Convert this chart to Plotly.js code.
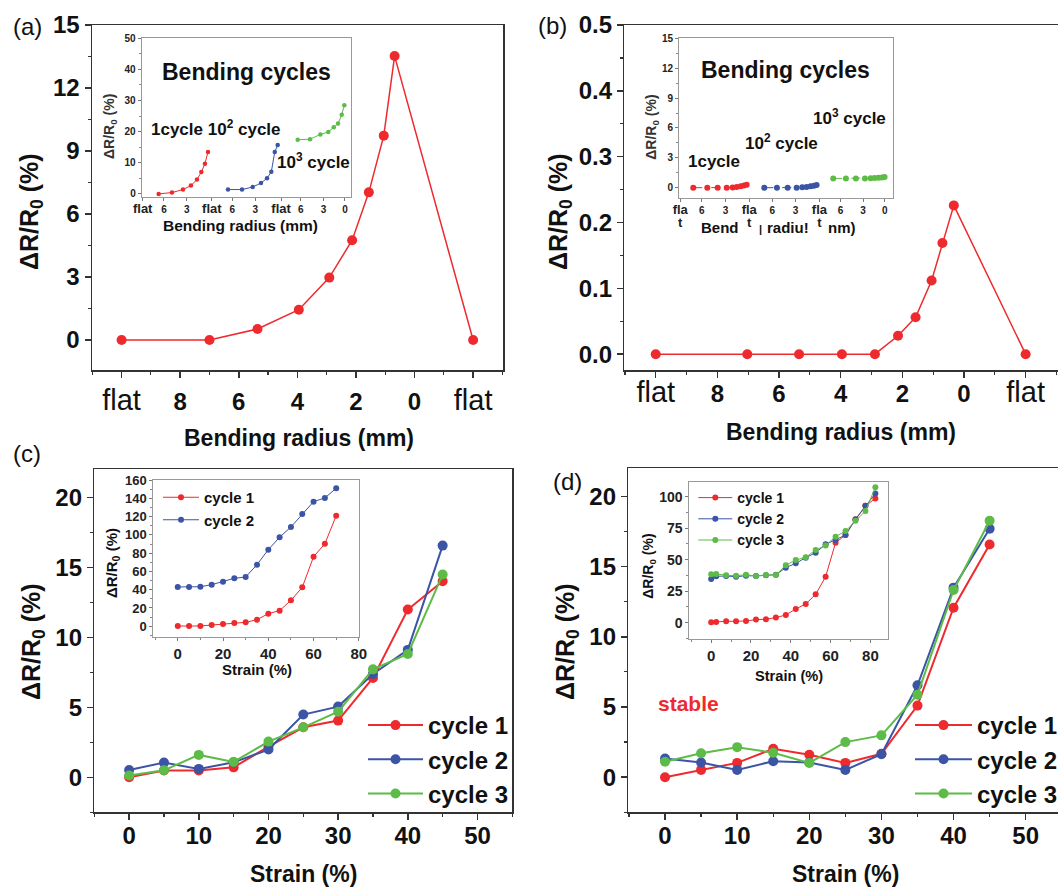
<!DOCTYPE html>
<html><head><meta charset="utf-8">
<script src="https://cdn.plot.ly/plotly-3.0.1.min.js"></script>
<style>html,body{margin:0;padding:0;background:#fff;overflow:hidden}#chart{width:1058px;height:889px}</style>
</head><body><div id="chart"></div>
<script>
// ---------------- data ----------------
// main (a)/(b): "flat" slots are placed at radius positions 10 (start) and -2 (end)
const FLAT_START = 10, FLAT_END = -2;
const aRadius   = [FLAT_START, 7.0, 5.36, 3.95, 2.91, 2.13, 1.56, 1.05, 0.68, FLAT_END];
const aResponse = [0, 0, 0.52, 1.44, 2.97, 4.75, 7.03, 9.73, 13.52, 0];
const bRadius   = [FLAT_START, 7.03, 5.35, 3.96, 2.89, 2.14, 1.57, 1.05, 0.70, 0.33, FLAT_END];
const bResponse = [0, 0, 0, 0, 0, 0.028, 0.056, 0.112, 0.169, 0.226, 0];

// inset (a): bending radius per cycle segment (1, 10^2, 10^3 cycles)
const aInsRadius1 = [6.70, 4.95, 3.50, 2.45, 1.66, 1.09, 0.61, 0.21];
const aInsResp1   = [0, 0.43, 1.4, 2.7, 4.6, 7.0, 9.7, 13.5];
const aInsRadius2 = [6.58, 4.74, 3.33, 2.24, 1.45, 0.88, 0.43, 0.04];
const aInsResp2   = [1.4, 1.4, 2.2, 3.5, 5.0, 7.1, 13.5, 15.7];
const aInsRadius3 = [6.41, 4.79, 3.43, 2.38, 1.67, 1.11, 0.62, 0.28];
const aInsResp3   = [17.4, 17.6, 19.1, 19.9, 21.4, 22.6, 25.4, 28.5];

// inset (b)
const bInsRadius1 = [7.08, 5.28, 3.95, 2.79, 2.03, 1.51, 1.00, 0.58, 0.23];
const bInsResp1   = [0, 0, 0, 0, 0.03, 0.08, 0.15, 0.22, 0.30];
const bInsRadius2 = [6.97, 5.35, 3.97, 2.82, 2.10, 1.54, 1.03, 0.60, 0.26];
const bInsResp2   = [0, 0, 0, 0, 0.04, 0.08, 0.14, 0.20, 0.27];
const bInsRadius3 = [7.13, 5.50, 4.22, 3.06, 2.33, 1.82, 1.31, 0.88, 0.54];
const bInsResp3   = [0.93, 0.93, 0.93, 0.93, 0.95, 0.98, 1.00, 1.04, 1.08];

// main (c)
const cStrain = [0, 5, 10, 15, 20, 25, 30, 35, 40, 45];
const cCycle1 = [0, 0.48, 0.48, 0.71, 2.2, 3.57, 4.05, 7.1, 11.98, 14.0];
const cCycle2 = [0.52, 1.05, 0.6, 1.07, 1.98, 4.48, 5.05, 7.38, 9.1, 16.55];
const cCycle3 = [0.13, 0.5, 1.6, 1.1, 2.55, 3.57, 4.69, 7.71, 8.81, 14.48];
// inset (c)
const cInsStrain = [0, 5, 10, 15, 20, 25, 30, 35, 40, 45, 50, 55, 60, 65, 70];
const cInsCycle1 = [0.3, 0.3, 0.3, 1.4, 2.5, 3.6, 4.3, 7.2, 13.8, 17.1, 28.4, 42.6, 76.1, 90.3, 120.9];
const cInsCycle2 = [43, 43, 43.3, 45.5, 48.8, 52.5, 53.9, 67.4, 83.8, 97.4, 108.6, 122.9, 136.3, 140.4, 151];

// main (d)
const dStrain = [0, 5, 10, 15, 20, 25, 30, 35, 40, 45];
const dCycle1 = [0, 0.52, 1.02, 2.02, 1.6, 1.02, 1.67, 5.1, 12.07, 16.57];
const dCycle2 = [1.33, 1.05, 0.52, 1.14, 1.05, 0.52, 1.64, 6.55, 13.5, 17.7];
const dCycle3 = [1.1, 1.71, 2.14, 1.74, 1.02, 2.5, 2.98, 5.88, 13.33, 18.26];
// inset (d)
const dInsStrain = [0, 2.5, 7.5, 12.5, 17.5, 22.5, 27.5, 32.5, 37.5, 42.5, 47.5, 52.5, 57.5, 62.5, 67.5, 72.5, 77.5, 82.5];
const dInsCycle1 = [0.3, 0.6, 1.1, 1.1, 1.3, 2.4, 2.7, 4.0, 6.1, 10.9, 14.8, 22.5, 36.5, 63.5, 69.6, 82, 92.8, 98.7];
const dInsCycle2 = [34.7, 36.8, 37.1, 36.5, 37.3, 37.1, 37.6, 38.1, 43.7, 47.1, 51.6, 55.6, 62.2, 65.6, 69.6, 82.1, 92.9, 102.7];
const dInsCycle3 = [38.4, 38.7, 37.6, 37.3, 38.1, 37.1, 37.9, 37.9, 45.6, 49.8, 51.9, 57.7, 61.4, 68.3, 72.8, 81, 88.7, 107.5];

// tick labels
const mainRadiusTickVals = [10, 8, 6, 4, 2, 0, -2];
const mainRadiusTickText = ['flat', '8', '6', '4', '2', '0', 'flat'];
const insATickVals = [0.2, 3, 6, 9.3, 12, 15, 18.4, 21, 24, 26.8];
const insATickText = ['flat', '6', '3', 'flat', '6', '3', 'flat', '6', '3', '0'];
const insBTickVals = [0.25, 3, 6.05, 9.1, 12.05, 15.05, 18.1, 20.8, 23.7, 26.5];
const insBTickText = ['fla<br>t', '6', '3', 'fla<br>t', '6', '3', 'fla<br>t', '6', '3', '0'];

// ---------------- styling ----------------
const W = 1058, H = 889;
const FONT = 'Liberation Sans, Arial, Helvetica, sans-serif';
const RED = '#ee2a2e', BLUE = '#3b54a5', GREEN = '#5dbb47';
const xd = (l, r) => [l / W, Math.min(r / W, 1)];
const yd = (t, b) => [1 - b / H, 1 - t / H];
const PX = x => x / W, PY = y => 1 - y / H;
const segPos = (radii, k) => radii.map(r => 9 * k + 9 - r);

function mainAxis(o) {
  return Object.assign({
    showgrid: false, zeroline: false, showline: true, linecolor: '#333', linewidth: 1.5,
    ticks: 'outside', ticklen: 6, tickwidth: 1.5, tickcolor: '#333', mirror: true,
    tickfont: { family: FONT, size: 24, color: '#111', weight: 'bold' }, fixedrange: true
  }, o);
}
function insetAxis(o) {
  return Object.assign({
    showgrid: false, zeroline: false, showline: true, linecolor: '#999', linewidth: 1,
    ticks: 'outside', ticklen: 3, tickwidth: 1, tickcolor: '#777', mirror: true,
    tickfont: { family: FONT, size: 10, color: '#222', weight: 'bold' }, fixedrange: true
  }, o);
}
const mMinor = d => ({ dtick: d, ticks: 'outside', ticklen: 3, tickwidth: 1.2, tickcolor: '#333' });
const iMinor = d => ({ dtick: d, ticks: 'outside', ticklen: 2, tickwidth: 1, tickcolor: '#888' });
const flatSpan = (s, size) => '<span style="font-weight:normal;font-size:' + size + 'px">' + s + '</span>';

const traces = [];
function ln(x, y, xa, ya, color, size, width, extra) {
  traces.push(Object.assign({
    x, y, xaxis: xa, yaxis: ya, type: 'scatter', mode: 'lines+markers',
    line: { color, width }, marker: { color, size }, showlegend: false, hoverinfo: 'skip'
  }, extra || {}));
}
// (a)
ln(aRadius, aResponse, 'x', 'y', RED, 10, 1.5);
ln(segPos(aInsRadius1, 0), aInsResp1, 'x2', 'y2', RED, 4.5, 1);
ln(segPos(aInsRadius2, 1), aInsResp2, 'x2', 'y2', BLUE, 4.5, 1);
ln(segPos(aInsRadius3, 2), aInsResp3, 'x2', 'y2', GREEN, 4.5, 1);
// (b)
ln(bRadius, bResponse, 'x3', 'y3', RED, 10, 1.5);
ln(segPos(bInsRadius1, 0), bInsResp1, 'x4', 'y4', RED, 6, 1, { line: { color: RED, width: 1, dash: 'dash' } });
ln(segPos(bInsRadius2, 1), bInsResp2, 'x4', 'y4', BLUE, 6, 1, { line: { color: BLUE, width: 1, dash: 'dash' } });
ln(segPos(bInsRadius3, 2), bInsResp3, 'x4', 'y4', GREEN, 6, 1, { line: { color: GREEN, width: 1, dash: 'dash' } });
// (c)
ln(cStrain, cCycle1, 'x5', 'y5', RED, 10, 2, { name: 'cycle 1', showlegend: true, legend: 'legend' });
ln(cStrain, cCycle2, 'x5', 'y5', BLUE, 10, 2, { name: 'cycle 2', showlegend: true, legend: 'legend' });
ln(cStrain, cCycle3, 'x5', 'y5', GREEN, 10, 2, { name: 'cycle 3', showlegend: true, legend: 'legend' });
ln(cInsStrain, cInsCycle1, 'x6', 'y6', RED, 6, 1, { name: 'cycle 1', showlegend: true, legend: 'legend2' });
ln(cInsStrain, cInsCycle2, 'x6', 'y6', BLUE, 6, 1, { name: 'cycle 2', showlegend: true, legend: 'legend2' });
// (d)
ln(dStrain, dCycle1, 'x7', 'y7', RED, 10, 2, { name: 'cycle 1', showlegend: true, legend: 'legend3' });
ln(dStrain, dCycle2, 'x7', 'y7', BLUE, 10, 2, { name: 'cycle 2', showlegend: true, legend: 'legend3' });
ln(dStrain, dCycle3, 'x7', 'y7', GREEN, 10, 2, { name: 'cycle 3', showlegend: true, legend: 'legend3' });
ln(dInsStrain, dInsCycle1, 'x8', 'y8', RED, 6, 1, { name: 'cycle 1', showlegend: true, legend: 'legend4' });
ln(dInsStrain, dInsCycle2, 'x8', 'y8', BLUE, 6, 1, { name: 'cycle 2', showlegend: true, legend: 'legend4' });
ln(dInsStrain, dInsCycle3, 'x8', 'y8', GREEN, 6, 1, { name: 'cycle 3', showlegend: true, legend: 'legend4' });

function legendAt(left, top, size, iw) {
  return {
    x: PX(left), y: PY(top), xanchor: 'left', yanchor: 'top', bgcolor: 'rgba(0,0,0,0)',
    borderwidth: 0, itemwidth: iw, tracegroupgap: 0, itemclick: false, itemdoubleclick: false,
    font: { family: FONT, size, color: '#111', weight: 'bold' }
  };
}

const ann = [];
function txt(text, x, y, size, opts) {
  ann.push(Object.assign({
    text, x: PX(x), y: PY(y), xref: 'paper', yref: 'paper', showarrow: false,
    xanchor: 'center', yanchor: 'middle',
    font: { family: FONT, size, color: '#111', weight: 'bold' }
  }, opts || {}));
}
const normal = (size, color) => ({ font: { family: FONT, size, color: color || '#111', weight: 'normal' } });
const rot = { textangle: -90 };
const YT = 'ΔR/R<sub>0</sub> (%)';

// panel labels
txt('(a)', 27, 26, 24, normal(24));
txt('(b)', 552, 25, 24, normal(24));
txt('(c)', 27, 453, 24, normal(24));
txt('(d)', 567.5, 481, 24, normal(24));
// main titles
txt(YT, 31, 212, 25, rot);
txt(YT, 560, 212, 25, rot);
txt(YT, 33, 642, 25, rot);
txt(YT, 567, 642, 25, rot);
txt('Bending radius (mm)', 298.5, 438, 23);
txt('Bending radius (mm)', 841, 432, 23);
txt('Strain (%)', 303, 874, 23);
txt('Strain (%)', 845, 874, 23);
// inset (a)
txt('Bending cycles', 246, 72, 23);
txt('1cycle 10<sup>2</sup> cycle', 215.7, 128, 17);
txt('10<sup>3</sup> cycle', 313.7, 161, 17);
txt(YT, 110, 127, 14, { textangle: -90, font: { family: FONT, size: 14, color: '#333', weight: 'bold' } });
txt('Bending radius (mm)', 240, 226, 15.5);
// inset (b)
txt('Bending cycles', 785, 70, 23);
txt('10<sup>3</sup> cycle', 849.5, 117, 17);
txt('10<sup>2</sup> cycle', 781, 142, 17);
txt('1cycle', 713.8, 161, 17);
txt(YT, 651.7, 127, 14, { textangle: -90, font: { family: FONT, size: 14, color: '#333', weight: 'bold' } });
txt('Bend', 719.5, 227, 15);
txt('|', 760.7, 229, 11);
txt('radiu!', 788, 227, 15);
txt('nm)', 842, 227, 15);
// inset (c)
txt(YT, 112, 563, 15, rot);
txt('Strain (%)', 256.7, 669.3, 15);
// inset (d)
txt(YT, 648.7, 566, 14, rot);
txt('Strain (%)', 789, 676, 14.6);
txt('stable', 688.7, 703.3, 21, { font: { family: FONT, size: 21, color: RED, weight: 'bold' } });

const layout = {
  width: W, height: H, margin: { l: 0, r: 0, t: 0, b: 0, autoexpand: false },
  paper_bgcolor: '#fff', plot_bgcolor: '#fff', showlegend: true,
  font: { family: FONT },
  // (a)
  xaxis: mainAxis({ domain: xd(92, 503), range: [11.01, -3.02], anchor: 'y', tickmode: 'array',
    tickvals: mainRadiusTickVals,
    ticktext: mainRadiusTickText.map(t => t === 'flat' ? flatSpan('flat', 29) : t),
    ticklabelstandoff: 4, minor: mMinor(1) }),
  yaxis: mainAxis({ domain: yd(25, 370), range: [-1.43, 15], anchor: 'x', dtick: 3, tick0: 0, minor: mMinor(1.5) }),
  xaxis2: insetAxis({ domain: xd(141.7, 351), range: [0.07, 27.6], anchor: 'y2', tickmode: 'array',
    tickvals: insATickVals,
    ticktext: insATickText.map(t => t === 'flat' ? '<span style="font-size:13px">flat</span>' : t) }),
  yaxis2: insetAxis({ domain: yd(38.3, 196.7), range: [-0.9, 50], anchor: 'x2', dtick: 10, tick0: 0, minor: iMinor(5) }),
  // (b)
  xaxis3: mainAxis({ domain: xd(624.3, 1058), range: [11.02, -3.05], anchor: 'y3', tickmode: 'array',
    tickvals: mainRadiusTickVals,
    ticktext: mainRadiusTickText.map(t => t === 'flat' ? flatSpan('flat', 29) : t),
    ticklabelstandoff: -4, minor: mMinor(1) }),
  yaxis3: mainAxis({ domain: yd(25, 370), range: [-0.024, 0.5], anchor: 'x3', dtick: 0.1, tick0: 0,
    tickformat: '.1f', mirror: false, minor: mMinor(0.05) }),
  xaxis4: insetAxis({ domain: xd(679, 892.7), range: [0.09, 27.5], anchor: 'y4', tickmode: 'array',
    tickvals: insBTickVals,
    ticktext: insBTickText.map(t => t.indexOf('fla') === 0 ? '<span style="font-size:13px">' + t + '</span>' : t) }),
  yaxis4: insetAxis({ domain: yd(38.3, 197.7), range: [-1, 15], anchor: 'x4', dtick: 3, tick0: 0, minor: iMinor(1.5) }),
  // (c)
  xaxis5: mainAxis({ domain: xd(94.3, 512.3), range: [-5, 55], anchor: 'y5', dtick: 10, tick0: 0, minor: mMinor(5), ticklabelstandoff: -5 }),
  yaxis5: mainAxis({ domain: yd(469.3, 812.3), range: [-2.5, 22], anchor: 'x5', dtick: 5, tick0: 0, minor: mMinor(2.5) }),
  xaxis6: insetAxis({ domain: xd(153.3, 359.3), range: [-10.8, 80.2], anchor: 'y6', dtick: 20, tick0: 0, minor: iMinor(10),
    tickfont: { family: FONT, size: 15, color: '#222', weight: 'bold' } }),
  yaxis6: insetAxis({ domain: yd(480, 636.7), range: [-11.4, 160], anchor: 'x6', dtick: 20, tick0: 0, minor: iMinor(10),
    tickfont: { family: FONT, size: 13, color: '#222', weight: 'bold' } }),
  // (d)
  xaxis7: mainAxis({ domain: xd(628.3, 1058), range: [-5.09, 54.48], anchor: 'y7', dtick: 10, tick0: 0, minor: mMinor(5), ticklabelstandoff: -5 }),
  yaxis7: mainAxis({ domain: yd(468.3, 812.3), range: [-2.5, 22], anchor: 'x7', dtick: 5, tick0: 0, mirror: false, minor: mMinor(2.5) }),
  xaxis8: insetAxis({ domain: xd(689.3, 888.3), range: [-11, 89], anchor: 'y8', dtick: 20, tick0: 0, minor: iMinor(10),
    tickfont: { family: FONT, size: 15, color: '#222', weight: 'bold' } }),
  yaxis8: insetAxis({ domain: yd(481.7, 639), range: [-13, 112], anchor: 'x8', dtick: 25, tick0: 0, minor: iMinor(12.5),
    tickfont: { family: FONT, size: 14, color: '#222', weight: 'bold' } }),
  legend: legendAt(363, 703, 24, 55),
  legend2: legendAt(158, 481, 15, 36),
  legend3: legendAt(910, 703, 24, 57),
  legend4: legendAt(693.3, 482, 14, 34),
  annotations: ann
};

Plotly.newPlot('chart', traces, layout, { displayModeBar: false, staticPlot: true });
</script></body></html>
